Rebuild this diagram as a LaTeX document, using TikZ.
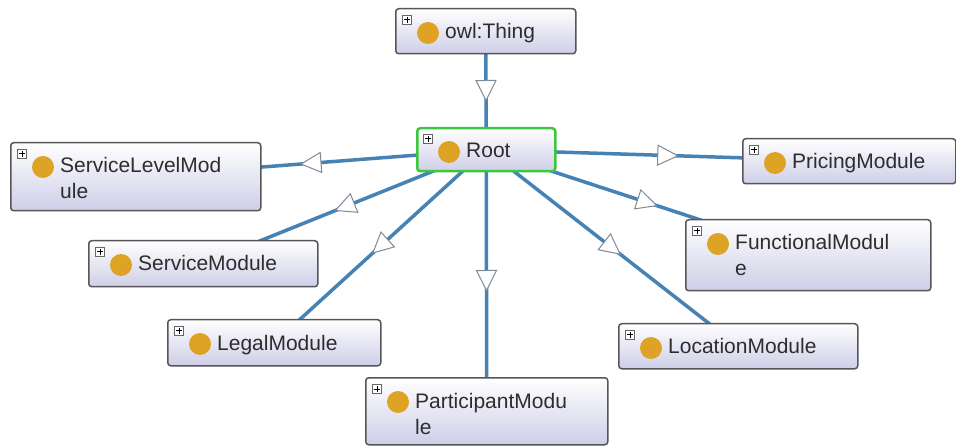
\documentclass[tikz,border=0pt]{standalone}
\usepackage{fontspec}
\setmainfont{Liberation Sans}
\usetikzlibrary{backgrounds,decorations.markings}
\definecolor{edgecol}{RGB}{70,130,180}
\definecolor{tricol}{RGB}{125,138,152}
\definecolor{boxborder}{RGB}{85,85,90}
\definecolor{boxbot}{RGB}{206,206,232}
\definecolor{dotcol}{RGB}{222,162,36}
\definecolor{rootgreen}{RGB}{60,200,60}
\definecolor{labelcol}{RGB}{45,45,45}

\tikzset{
 classbox/.style={draw=boxborder, line width=1.5pt, rounded corners=3pt, top color=white, bottom color=boxbot, inner sep=0pt, anchor=north west},
 rootbox/.style={draw=rootgreen, line width=2.5pt},
 expander/.style={draw=gray!80!black, fill=white, line width=0.6pt, minimum size=9pt, inner sep=0pt, rounded corners=0pt,
   path picture={\draw[line width=1pt,black] ([xshift=1.8pt]path picture bounding box.west) -- ([xshift=-1.8pt]path picture bounding box.east) ([yshift=-1.8pt]path picture bounding box.north) -- ([yshift=1.8pt]path picture bounding box.south);}},
 classdot/.style={circle, fill=dotcol, minimum size=22pt, inner sep=0pt},
 classlabel/.style={anchor=base west, inner sep=0pt, font=\fontsize{21}{26}\selectfont, text=labelcol},
 subedge/.style={draw=edgecol, line width=3.5pt, postaction={decorate},
   decoration={markings, mark=at position 0.5 with {\filldraw[draw=tricol, fill=white, line width=1pt, line join=miter] (-10pt,-10pt) -- (10pt,0pt) -- (-10pt,10pt) -- cycle;}}},
}

% name, x, y, width, height, extra style, first line
\newcommand{\classnode}[7]{%
 \node[classbox,#6,minimum width=#4pt,minimum height=#5pt] (#1) at (#2,#3) {};
 \node[expander] (#1-x) at ([shift={(12pt,-12pt)}]#1.north west) {};
 \node[classdot] (#1-d) at ([shift={(33pt,-25pt)}]#1.north west) {};
 \node[classlabel] (#1-t) at ([shift={(50pt,-31pt)}]#1.north west) {#7};
}
\newcommand{\classsecond}[2]{%
 \node[classlabel] (#1-t2) at ([shift={(50pt,-57pt)}]#1.north west) {#2};
}

\begin{document}
\begin{tikzpicture}[x=1pt,y=-1pt]
\useasboundingbox (0,0) rectangle (956,446);

\classnode{owl}{395}{8}{180}{45}{}{owl:Thing}
\classnode{root}{416}{127}{138}{43}{rootbox}{Root}
\classnode{slm}{10}{142}{250}{68}{}{ServiceLevelMod}
\classsecond{slm}{ule}
\classnode{svc}{88}{240}{229}{46}{}{ServiceModule}
\classnode{legal}{167}{319}{213}{46}{}{LegalModule}
\classnode{part}{365}{377}{242}{67}{}{ParticipantModu}
\classsecond{part}{le}
\classnode{loc}{618}{323}{239}{45}{}{LocationModule}
\classnode{func}{685}{219}{245}{71}{}{FunctionalModul}
\classsecond{func}{e}
\classnode{price}{742}{138}{213}{45}{}{PricingModule}

\begin{scope}[on background layer]
\fill[white] (0,0) rectangle (956,446);
\draw[subedge] (owl.center) -- (root.center);
\draw[subedge] (root.center) -- (slm.center);
\draw[subedge] (root.center) -- (svc.center);
\draw[subedge] (root.center) -- (legal.center);
\draw[subedge] (root.center) -- (part.center);
\draw[subedge] (root.center) -- (loc.center);
\draw[subedge] (root.center) -- (func.center);
\draw[subedge] (root.center) -- (price.center);
\end{scope}
\end{tikzpicture}
\end{document}
